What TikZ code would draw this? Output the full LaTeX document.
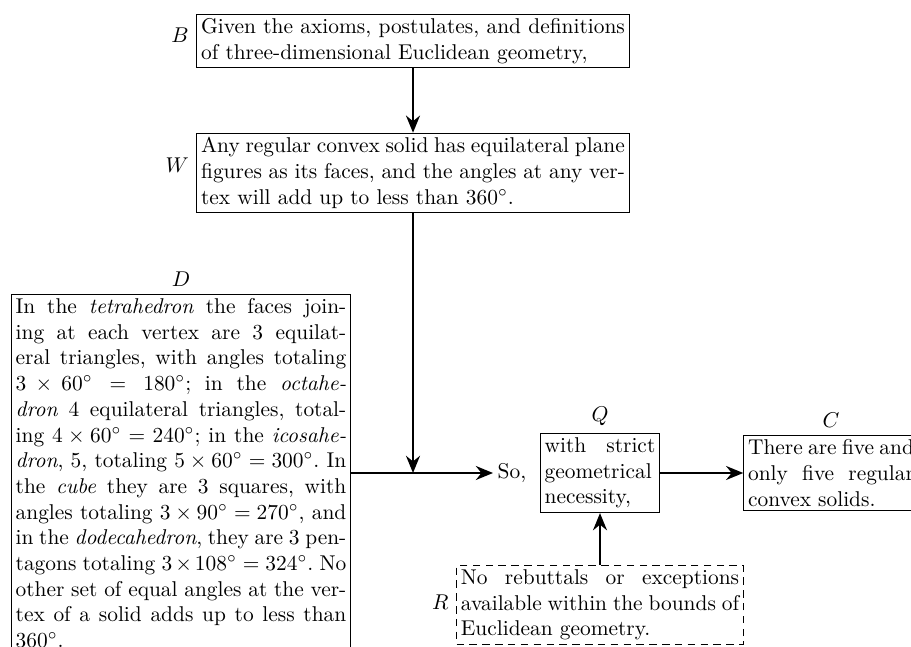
\documentclass[tikz,border=0pt]{standalone}
\usetikzlibrary{arrows.meta}
\hbadness=10000
\hfuzz=30pt
\def\jlw#1 #2\jlend{#1\if\relax\detokenize{#2}\relax\else\hskip3.33pt plus1.67pt minus1.11pt\relax\jlw#2\jlend\fi}
\newcommand\jl[1]{\hbox to\hsize{\jlw#1 \jlend}\newline}
\newcommand\nl[1]{\hbox{#1}}
\tikzset{
  box/.style={draw, line width=0.5pt, inner sep=2pt},
  dbox/.style={box, dash pattern=on 3.5pt off 2.5pt},
  conn/.style={line width=1.2pt, -{Stealth[length=8pt,width=6.5pt,inset=2.6pt]}},
  plain/.style={inner sep=2pt}
}
\begin{document}
\begin{tikzpicture}[x=0.4673pt,y=-0.4673pt]
\useasboundingbox (0,0) rectangle (911,647);
\clip (0,0) rectangle (911,647);

\node[box, text width=198pt, label={[yshift=2.8pt]left:$B$}] (B) at (413,41)
  {\jl{Given the axioms, postulates, and definitions}\nl{of three-dimensional Euclidean geometry,}};

\node[box, text width=198pt, label={[yshift=3.5pt]left:$W$}] (W) at (413,173)
  {\jl{Any regular convex solid has equilateral plane}\jl{figures as its faces, and the angles at any ver-}\nl{tex will add up to less than $360^\circ$.}};

\node[box, text width=154.5pt, label=above:$D$] (D) at (181,473)
  {\jl{In the \emph{tetrahedron} the faces join-}%
   \jl{ing at each vertex are 3 equilat-}%
   \jl{eral triangles, with angles totaling}%
   \jl{$3\times60^\circ=180^\circ$; in the \emph{octahe-}}%
   \jl{\emph{dron} 4 equilateral triangles, total-}%
   \jl{ing $4\times60^\circ=240^\circ$; in the \emph{icosahe-}}%
   \jl{\emph{dron}, 5, totaling $5\times60^\circ=300^\circ$. In}%
   \jl{the \emph{cube} they are 3 squares, with}%
   \jl{angles totaling $3\times90^\circ=270^\circ$, and}%
   \jl{in the \emph{dodecahedron}, they are 3 pen-}%
   \jl{tagons totaling $3\times108^\circ=324^\circ$. No}%
   \jl{other set of equal angles at the ver-}%
   \jl{tex of a solid adds up to less than}%
   \nl{$360^\circ$.}};

\node[plain] (So) at (512,473) {So,};

\node[box, text width=51.7pt, label=above:$Q$] (Q) at (600,473)
  {\jl{with strict}\jl{geometrical}\nl{necessity,}};

\node[box, text width=77.5pt, label=above:$C$] (C) at (831,473)
  {\jl{There are five and}\jl{only five regular}\nl{convex solids.}};

\node[dbox, text width=130pt, label={[yshift=1.4pt]left:$R$}] (R) at (600,605)
  {\jl{No rebuttals or exceptions}\jl{available within the bounds of}\nl{Euclidean geometry.}};

\coordinate (J) at (W.south |- D.east);

\draw[conn] (B) -- (W);
\draw[conn] (W.south) -- (J);
\draw[conn] (D.east) -- (So.west);
\draw[conn] (Q.east) -- (C.west);
\draw[conn] (R.north) -- (Q.south);
\end{tikzpicture}
\end{document}
